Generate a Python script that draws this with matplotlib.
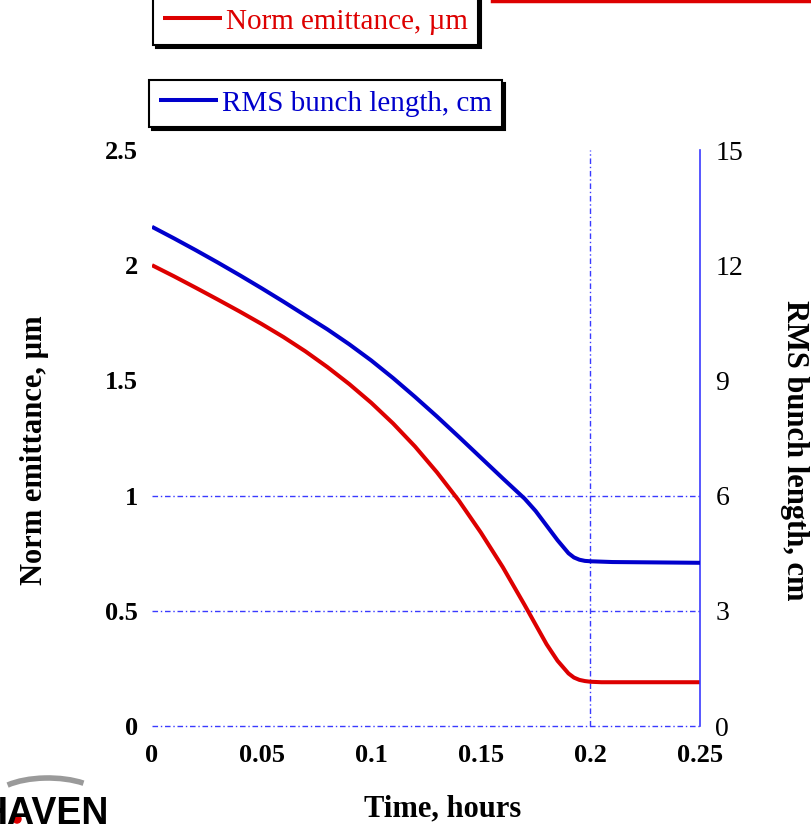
import matplotlib
matplotlib.use("Agg")
import matplotlib.pyplot as plt
from matplotlib.lines import Line2D
from matplotlib.patches import Arc, Circle

plt.rcParams['font.family'] = ['Liberation Serif', 'DejaVu Serif']

# Cooling history
time_h = [0.0, 0.01, 0.02, 0.03, 0.04, 0.05, 0.06, 0.07, 0.08, 0.09, 0.10,
          0.11, 0.12, 0.13, 0.14, 0.15, 0.16, 0.17, 0.175, 0.18, 0.185, 0.19,
          0.1925, 0.195, 0.1975, 0.20, 0.205, 0.21, 0.25]
emittance_um = [2.000, 1.952, 1.902, 1.851, 1.799, 1.745, 1.688, 1.626, 1.558,
                1.484, 1.403, 1.313, 1.213, 1.101, 0.978, 0.840, 0.690, 0.525,
                0.440, 0.355, 0.283, 0.228, 0.210, 0.200, 0.195, 0.192, 0.190,
                0.190, 0.190]
bunch_cm = [13.00, 12.70, 12.39, 12.07, 11.74, 11.40, 11.05, 10.69, 10.33,
            9.94, 9.52, 9.06, 8.57, 8.06, 7.53, 6.99, 6.45, 5.92,
            5.60, 5.22, 4.84, 4.50, 4.39, 4.33, 4.30, 4.29, 4.28, 4.27, 4.25]

x_ticks = [0, 0.05, 0.1, 0.15, 0.2, 0.25]
x_labels = ['0', '0.05', '0.1', '0.15', '0.2', '0.25']
left_ticks = [0, 0.5, 1, 1.5, 2, 2.5]
left_labels = ['0', '0.5', '1', '1.5', '2', '2.5']
right_ticks = [0, 3, 6, 9, 12, 15]
right_labels = ['0', '3', '6', '9', '12', '15']

RED = '#dd0000'
BLUE = '#0000cc'
GRID = '#3a3aff'

fig = plt.figure(figsize=(8.12, 8.24), dpi=100)
ax = fig.add_axes([152 / 812, 1 - 726 / 824, 548 / 812, 576 / 824])
ax2 = ax.twinx()

ax.set_xlim(0, 0.25)
ax.set_ylim(0, 2.5)
ax2.set_ylim(0, 15)

# reference lines
grid_style = dict(color=GRID, lw=1.0, linestyle=(0, (4, 2, 1, 2)), zorder=1,
                  clip_on=False)
for yv in [0, 0.5, 1.0]:
    ax.axhline(yv, **grid_style)
ax.axvline(0.2, **grid_style)

l1, = ax.plot(time_h, emittance_um, color=RED, lw=2.9, zorder=3,
              solid_capstyle='butt', label='Norm emittance, µm')
l2, = ax2.plot(time_h, bunch_cm, color=BLUE, lw=2.9, zorder=3,
               solid_capstyle='butt', label='RMS bunch length, cm')

for a in (ax, ax2):
    for s in a.spines.values():
        s.set_visible(False)
ax2.spines['right'].set_visible(True)
ax2.spines['right'].set_color(GRID)
ax2.spines['right'].set_linewidth(1.2)

ax.set_xticks(x_ticks)
ax.set_xticklabels(x_labels, fontsize=19, fontweight='bold')
ax.set_yticks(left_ticks)
ax.set_yticklabels(left_labels, fontsize=19, fontweight='bold')
ax2.set_yticks(right_ticks)
ax2.set_yticklabels(right_labels, fontsize=20)
ax.tick_params(axis='x', length=0, pad=13)
ax.tick_params(axis='y', length=0, pad=10)
ax2.tick_params(axis='y', length=0, pad=11)

ax.set_xlabel('Time, hours', fontsize=22, fontweight='bold')
ax.xaxis.set_label_coords(0.53, -0.119)
ax.set_ylabel('Norm emittance, µm', fontsize=22, fontweight='bold')
ax.yaxis.set_label_coords(-0.188, 0.478)
ax2.set_ylabel('RMS bunch length, cm', fontsize=22, fontweight='bold',
               rotation=-90, va='center')
ax2.yaxis.set_label_coords(1.172, 0.478)

shadow = {'color': 'black', 'alpha': 1.0}
leg_kw = dict(loc='upper left', fontsize=21, frameon=True, fancybox=False,
              shadow=shadow, edgecolor='black', framealpha=1,
              handlelength=2.0, handletextpad=0.15, borderpad=0.35,
              borderaxespad=0)
leg1 = fig.legend(handles=[l1], bbox_to_anchor=(153 / 812, 1 + 2 / 824), **leg_kw)
for t in leg1.get_texts():
    t.set_color(RED)
leg1.get_frame().set_linewidth(1.5)

leg2 = fig.legend(handles=[l2], bbox_to_anchor=(149 / 812, 1 - 80 / 824), **leg_kw)
for t in leg2.get_texts():
    t.set_color(BLUE)
leg2.get_frame().set_linewidth(1.5)

# top-right rule and corner logo
fig.add_artist(Line2D([492 / 812, 1.0], [1 - 1 / 824, 1 - 1 / 824],
                      color=RED, lw=2.5, transform=fig.transFigure))
fig.add_artist(Arc((48 / 812, 1 - 800 / 824), 110 / 812, 44 / 824,
                   theta1=25, theta2=160, color='#9a9a9a', lw=4,
                   transform=fig.transFigure))
fig.text(-20 / 812, -8 / 824, 'HAVEN', fontsize=27, fontweight='bold',
         family=['Liberation Sans', 'DejaVu Sans'], ha='left', va='bottom')
fig.add_artist(Circle((17 / 812, 1 - 819 / 824), 4 / 812, color=RED,
                      transform=fig.transFigure))

fig.savefig('out.png', dpi=100)
